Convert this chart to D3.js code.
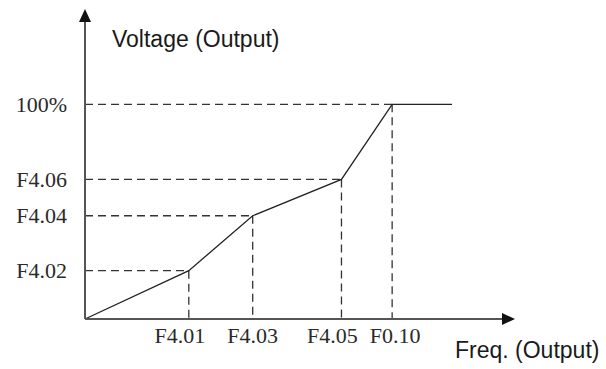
<!DOCTYPE html>
<html>
<head>
<meta charset="utf-8">
<script src="https://cdn.jsdelivr.net/npm/d3@7"></script>
<style>
  body { margin: 0; background: #fff; }
  .serif { font-family: "Liberation Serif", "Times New Roman", serif; fill: #2a2a2a; }
  .sans { font-family: "Liberation Sans", Arial, sans-serif; fill: #1a1a1a; }
</style>
</head>
<body>
<svg id="chart" width="606" height="369"></svg>
<script>
// break points of the V/F curve, in % of max freq / % of max voltage
var freqLabels = ["F4.01", "F4.03", "F4.05", "F0.10"];
var freqValues = [33.8, 54.6, 83.5, 100];
var voltLabels = ["F4.02", "F4.04", "F4.06", "100%"];
var voltValues = [22.5, 48.1, 65, 100];
var freqEnd = 119.5;   // flat part after F0.10

var svg = d3.select("#chart");

var x = d3.scaleLinear().domain([0, 140]).range([85, 515]);
var y = d3.scaleLinear().domain([0, 144.4]).range([319, 9]);

// points of the curve
var pts = [{ f: 0, v: 0 }];
freqValues.forEach((f, i) => pts.push({ f: f, v: voltValues[i] }));
pts.push({ f: freqEnd, v: 100 });

// dashed guides
var guides = svg.append("g")
    .attr("stroke", "#333")
    .attr("stroke-width", 1.3)
    .attr("stroke-dasharray", "8,5");

guides.selectAll(".h").data(freqValues).enter().append("line")
    .attr("x1", x(0)).attr("x2", d => x(d))
    .attr("y1", (d, i) => y(voltValues[i])).attr("y2", (d, i) => y(voltValues[i]));

guides.selectAll(".v").data(freqValues).enter().append("line")
    .attr("x1", d => x(d)).attr("x2", d => x(d))
    .attr("y1", (d, i) => y(voltValues[i])).attr("y2", y(0));

// curve
var line = d3.line().x(d => x(d.f)).y(d => y(d.v));
svg.append("path")
    .datum(pts)
    .attr("d", line)
    .attr("fill", "none")
    .attr("stroke", "#222")
    .attr("stroke-width", 1.3);

// axes with arrows
var axisColor = "#555";
svg.append("line")
    .attr("x1", x(0)).attr("x2", x(0))
    .attr("y1", y(0)).attr("y2", y(144.4) + 10)
    .attr("stroke", axisColor).attr("stroke-width", 2);
svg.append("line")
    .attr("x1", x(0)).attr("x2", x(140) - 10)
    .attr("y1", y(0)).attr("y2", y(0))
    .attr("stroke", axisColor).attr("stroke-width", 2);

svg.append("path")
    .attr("d", "M" + x(0) + "," + y(144.4) + "l-6,13h12z")
    .attr("fill", "#111");
svg.append("path")
    .attr("d", "M" + x(140) + "," + y(0) + "l-13,-6v12z")
    .attr("fill", "#111");

// tick labels (serif, a bit wide like the original drawing)
svg.selectAll(".ylab").data(voltLabels).enter().append("text")
    .attr("class", "serif")
    .attr("x", 67)
    .attr("y", (d, i) => y(voltValues[i]))
    .attr("dy", "0.35em")
    .attr("text-anchor", "end")
    .style("font-size", "22px")
    .text(d => d);

// labels squeezed left when the next tick is close
var nudge = [-9, 0, -9, 3];
svg.selectAll(".xlab").data(freqLabels).enter().append("text")
    .attr("class", "serif")
    .attr("x", (d, i) => x(freqValues[i]) + nudge[i])
    .attr("y", 343)
    .attr("text-anchor", "middle")
    .style("font-size", "22px")
    .text(d => d);

// axis titles
svg.append("text")
    .attr("class", "sans")
    .attr("x", 112).attr("y", 47)
    .style("font-size", "23px")
    .text("Voltage (Output)");

svg.append("text")
    .attr("class", "sans")
    .attr("x", 455).attr("y", 358)
    .style("font-size", "23px")
    .text("Freq. (Output)");
</script>
</body>
</html>
